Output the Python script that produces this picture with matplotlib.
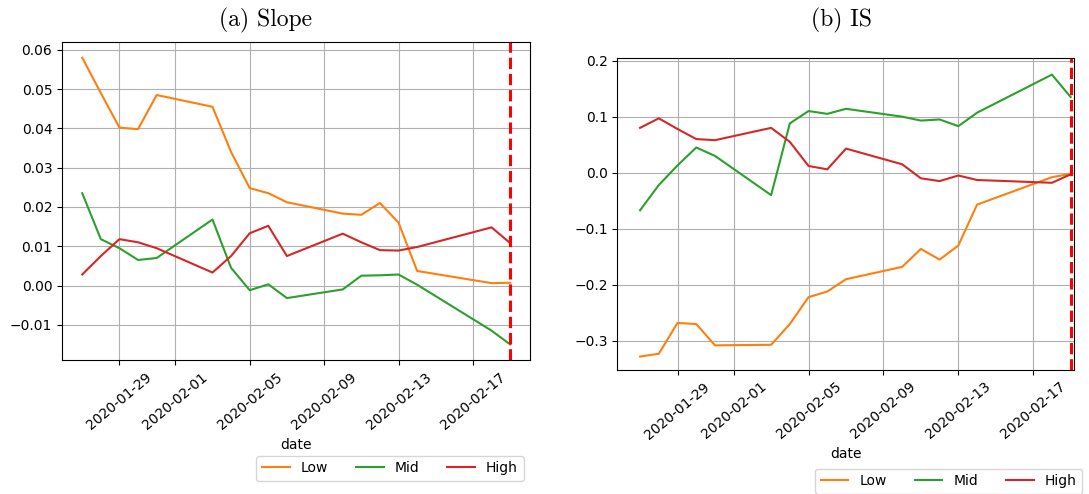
import pandas as pd
import matplotlib.pyplot as plt
import matplotlib.dates as mdates

dates = pd.to_datetime([
    "2020-01-27", "2020-01-28", "2020-01-29", "2020-01-30", "2020-01-31",
    "2020-02-03", "2020-02-04", "2020-02-05", "2020-02-06", "2020-02-07",
    "2020-02-10", "2020-02-11", "2020-02-12", "2020-02-13", "2020-02-14",
    "2020-02-18", "2020-02-19",
])

slope_low = [0.058, 0.049, 0.0402, 0.0398, 0.0485, 0.0455, 0.034, 0.0248, 0.0235,
             0.0212, 0.0183, 0.018, 0.021, 0.016, 0.0037, 0.0006, 0.0007]
slope_mid = [0.0235, 0.0118, 0.0095, 0.0065, 0.007, 0.0168, 0.0045, -0.0012, 0.0003,
             -0.0032, -0.001, 0.0025, 0.0026, 0.0028, 0.0002, -0.0115, -0.015]
slope_high = [0.0028, 0.0075, 0.0118, 0.011, 0.0095, 0.0033, 0.0075, 0.0133, 0.0152,
              0.0075, 0.0132, 0.011, 0.009, 0.0089, 0.0098, 0.0148, 0.0108]

is_low = [-0.328, -0.323, -0.268, -0.27, -0.308, -0.307, -0.27, -0.222, -0.212,
          -0.19, -0.168, -0.136, -0.155, -0.13, -0.057, -0.008, -0.002]
is_mid = [-0.067, -0.022, 0.013, 0.045, 0.03, -0.04, 0.088, 0.11, 0.105,
          0.114, 0.1, 0.093, 0.095, 0.083, 0.107, 0.175, 0.135]
is_high = [0.08, 0.097, 0.078, 0.06, 0.058, 0.08, 0.055, 0.012, 0.006,
           0.043, 0.015, -0.01, -0.015, -0.005, -0.013, -0.018, -0.003]

tick_dates = pd.to_datetime(["2020-01-29", "2020-02-01", "2020-02-05",
                             "2020-02-09", "2020-02-13", "2020-02-17"])

fig = plt.figure(figsize=(10.89, 4.94), dpi=100)
ax1 = fig.add_axes([0.057, 0.271, 0.43, 0.644])
ax2 = fig.add_axes([0.567, 0.251, 0.419, 0.632])

panels = [
    (ax1, slope_low, slope_mid, slope_high, (0.70, -0.34)),
    (ax2, is_low, is_mid, is_high, (0.726, -0.356)),
]
for ax, lo, mi, hi, legpos in panels:
    ax.plot(dates, lo, color="tab:orange", label="Low")
    ax.plot(dates, mi, color="tab:green", label="Mid")
    ax.plot(dates, hi, color="tab:red", label="High")
    ax.axvline(dates[-1], color="red", linestyle="--", linewidth=2.2)
    ax.set_xticks(tick_dates)
    ax.xaxis.set_major_formatter(mdates.DateFormatter("%Y-%m-%d"))
    ax.tick_params(axis="x", rotation=40)
    ax.grid(True, color="#b0b0b0", linewidth=0.8)
    ax.set_xlabel("date")
    ax.legend(loc="center", bbox_to_anchor=legpos, ncol=3)

fig.text(0.244, 0.958, "(a) Slope", fontsize=17, family="cmr10", ha="center", va="center")
fig.text(0.773, 0.958, "(b) IS", fontsize=17, family="cmr10", ha="center", va="center")

ax1.set_xlim(pd.Timestamp("2020-01-25 22:00"), pd.Timestamp("2020-02-20 02:00"))
ax1.set_ylim(-0.019, 0.062)
ax2.set_xlim(pd.Timestamp("2020-01-25 19:00"), pd.Timestamp("2020-02-19 04:00"))
ax2.set_ylim(-0.352, 0.205)

fig.savefig("out.png")
